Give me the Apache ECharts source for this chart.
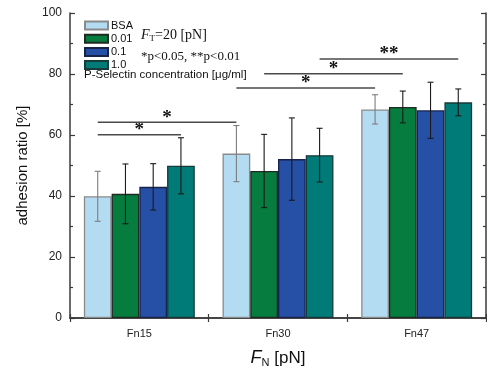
<!DOCTYPE html>
<html><head><meta charset="utf-8">
<script src="https://cdn.jsdelivr.net/npm/echarts@6/dist/echarts.min.js"></script>
<style>html,body{margin:0;padding:0;background:#fff}#c{width:487px;height:369px}</style>
</head><body><div id="c"></div>
<script>
const categories = ['Fn15', 'Fn30', 'Fn47'];
const seriesNames = ['BSA', '0.01', '0.1', '1.0'];
const bsa = [39.9, 53.9, 68.4];
const c001 = [40.7, 48.2, 69.2];
const c01 = [43.0, 52.1, 68.1];
const c10 = [49.9, 53.4, 70.7];
const bsaErr = [8.2, 9.2, 4.8];
const c001Err = [9.8, 12.0, 5.2];
const c01Err = [7.6, 13.5, 9.2];
const c10Err = [9.2, 8.8, 4.4];
// significance brackets: from [category, series], to [category, series], level (%), label
const sigFrom = [[0, 0], [0, 0], [1, 0], [1, 1], [1, 3]];
const sigTo = [[0, 3], [1, 0], [2, 0], [2, 1], [2, 3]];
const sigLevel = [60.1, 64.2, 75.4, 80.1, 84.9];
const sigLabel = ['*', '*', '*', '*', '**'];

const values = [bsa, c001, c01, c10];
const errs = [bsaErr, c001Err, c01Err, c10Err];
const fills = ['#b3dcf2', '#067c3e', '#2650a6', '#017b78'];
const borders = ['#8a8a8a', '#1f2a22', '#18224a', '#183a38'];
const errColors = ['#7d7d7d', '#1a1a1a', '#1a1a1a', '#1a1a1a'];
const frame = '#3a3a3a';
const sans = 'Liberation Sans, Arial, sans-serif';
const serif = 'Liberation Serif, Times New Roman, serif';

const chart = echarts.init(document.getElementById('c'), null, {renderer: 'canvas'});

function offset(s, band) { return (-0.3 + 0.2 * s) * band; }

const barSeries = seriesNames.map((n, s) => ({
  name: n, type: 'bar', data: values[s], barGap: '0%', barCategoryGap: '20%',
  itemStyle: {color: fills[s], borderColor: borders[s], borderWidth: 1.3},
  z: 2
}));

const errData = [];
values.forEach((arr, s) => arr.forEach((v, c) => errData.push([c, v, errs[s][c], s])));

const errSeries = {
  type: 'custom', data: errData, z: 5, silent: true,
  encode: {x: 0, y: 1},
  renderItem: function (params, api) {
    const c = api.value(0), v = api.value(1), e = api.value(2), s = api.value(3);
    const band = api.size([1, 0])[0];
    const t = api.coord([c, v + e]), b = api.coord([c, v - e]);
    const x = t[0] + offset(s, band);
    const cap = 3;
    const st = {stroke: errColors[s], lineWidth: 1.1};
    return {type: 'group', children: [
      {type: 'line', shape: {x1: x, y1: t[1], x2: x, y2: b[1]}, style: st},
      {type: 'line', shape: {x1: x - cap, y1: t[1], x2: x + cap, y2: t[1]}, style: st},
      {type: 'line', shape: {x1: x - cap, y1: b[1], x2: x + cap, y2: b[1]}, style: st}
    ]};
  }
};

const sigData = sigLevel.map((lv, i) => [sigFrom[i][0], lv, sigFrom[i][1], sigTo[i][0], sigTo[i][1], i]);
const sigSeries = {
  type: 'custom', data: sigData, z: 6, silent: true, clip: false,
  encode: {x: 0, y: 1},
  renderItem: function (params, api) {
    const fc = api.value(0), lv = api.value(1), fs = api.value(2), tc = api.value(3), ts = api.value(4), i = api.value(5);
    const band = api.size([1, 0])[0];
    const p1 = api.coord([fc, lv]), p2 = api.coord([tc, lv]);
    const x1 = p1[0] + offset(fs, band), x2 = p2[0] + offset(ts, band);
    const y = p1[1];
    return {type: 'group', children: [
      {type: 'line', shape: {x1: x1, y1: y, x2: x2, y2: y}, style: {stroke: '#4a4a4a', lineWidth: 1.5}},
      {type: 'text', x: (x1 + x2) / 2, y: y + 5, style: {text: sigLabel[i], font: 'bold 19px ' + serif, fill: '#111', align: 'center', verticalAlign: 'bottom'}}
    ]};
  }
};

const catAxisBase = {
  type: 'category', data: categories, boundaryGap: true,
  axisLine: {show: true, lineStyle: {color: frame, width: 1.5}},
  axisTick: {show: true, inside: true, length: 4, lineStyle: {color: frame, width: 1.2}}
};
const valAxisBase = {
  type: 'value', min: 0, max: 100, interval: 20,
  axisLine: {show: true, lineStyle: {color: frame, width: 1.5}},
  axisTick: {show: true, inside: true, length: 5, lineStyle: {color: frame, width: 1.2}},
  minorTick: {show: true, splitNumber: 2, length: 3, lineStyle: {color: frame, width: 1.2}},
  splitLine: {show: false}
};

chart.setOption({
  animation: false,
  backgroundColor: '#fff',
  grid: {left: 70, right: 1, top: 13, bottom: 51, containLabel: false, outerBoundsMode: 'none'},
  legend: {
    data: seriesNames, orient: 'vertical', left: 84, top: 20, padding: 0,
    itemWidth: 23, itemHeight: 8, itemGap: 2.2, icon: 'rect',
    textStyle: {fontSize: 11, color: '#111', fontFamily: sans, padding: [0, 0, 0, -2]},
    selectedMode: false
  },
  xAxis: [
    Object.assign({}, catAxisBase, {
      position: 'bottom',
      axisLabel: {fontSize: 11, color: '#222', margin: 10, fontFamily: sans},
      name: '{i|F}{s|N} [pN]', nameLocation: 'middle', nameGap: 30,
      nameTextStyle: {
        fontSize: 17, color: '#111', fontFamily: sans,
        rich: {
          i: {fontSize: 18, fontStyle: 'italic', fontFamily: sans, color: '#111'},
          s: {fontSize: 11, fontFamily: sans, color: '#111', padding: [9, 0, 0, 0]}
        }
      }
    }),
    Object.assign({}, catAxisBase, {position: 'top', axisLabel: {show: false}})
  ],
  yAxis: [
    Object.assign({}, valAxisBase, {
      position: 'left',
      axisLabel: {fontSize: 12, color: '#222', margin: 8, fontFamily: sans},
      name: 'adhesion ratio [%]', nameLocation: 'middle', nameGap: 40,
      nameTextStyle: {fontSize: 15, color: '#111', fontFamily: sans}
    }),
    Object.assign({}, valAxisBase, {position: 'right', axisLabel: {show: false}})
  ],
  graphic: [
    {type: 'text', left: 141, top: 28, style: {
      text: '{i|F}{s|T}=20 [pN]', font: '14px ' + serif, fill: '#111',
      rich: {i: {fontStyle: 'italic', fontSize: 14, fontFamily: serif}, s: {fontSize: 9, fontFamily: serif, padding: [7, 0, 0, 0]}}
    }},
    {type: 'text', left: 141, top: 50, style: {text: '*p<0.05, **p<0.01', font: '13px ' + serif, fill: '#111'}},
    {type: 'text', left: 84, top: 69, style: {text: 'P-Selectin concentration [μg/ml]', font: '11.5px ' + sans, fill: '#111'}}
  ],
  series: barSeries.concat([errSeries, sigSeries])
});
</script></body></html>
